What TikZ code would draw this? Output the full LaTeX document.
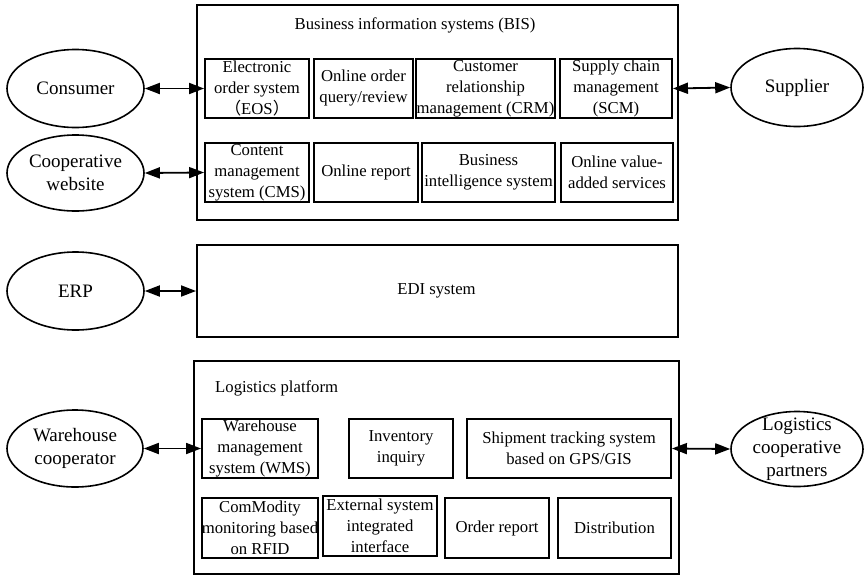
\documentclass[tikz,border=0pt]{standalone}
\usepackage{fontspec}
\setmainfont{Liberation Serif}
\newfontfamily\cjk{Noto Sans CJK SC}
\usetikzlibrary{shapes.geometric,arrows.meta}
\tikzset{
  bx/.style={draw, line width=1.9pt, inner sep=0pt, align=center, font=\fontsize{16.7}{21}\selectfont},
  outer/.style={draw, line width=1.9pt, inner sep=0pt},
  ell/.style={draw, ellipse, line width=1.6pt, inner sep=0pt},
  elltxt/.style={align=center, inner sep=0pt, font=\fontsize{19}{23}\selectfont},
  lbl/.style={inner sep=0pt, font=\fontsize{16.7}{21}\selectfont},
  conn/.style={line width=1.8pt, arrows={Triangle[length=15pt,width=11pt]-Triangle[length=15pt,width=11pt]}}
}
\begin{document}
\begin{tikzpicture}[x=1pt,y=-1pt]
\useasboundingbox (0,0) rectangle (864,576);
% BIS
\node[outer, minimum width=481, minimum height=215] (bis) at (437.5,112.5) {};
\node[lbl] (bistitle) at (415,25) {Business information systems (BIS)};
\node[bx, minimum width=104, minimum height=59] (eos) at (257,88.5) {Electronic\\order system\\{\cjk （}EOS{\cjk ）}};
\node[bx, minimum width=99, minimum height=59] (query) at (363.5,88.5) {Online order\\query/review};
\node[bx, minimum width=139, minimum height=59] (crm) at (485.5,88.5) {Customer\\relationship\\management (CRM)};
\node[bx, minimum width=112, minimum height=59] (scm) at (616,88.5) {Supply chain\\management\\(SCM)};
\node[bx, minimum width=104, minimum height=59] (cms) at (257,172.5) {Content\\management\\system (CMS)};
\node[bx, minimum width=104, minimum height=59] (report) at (366,172.5) {Online report};
\node[bx, minimum width=133, minimum height=59] (bi) at (488.5,172.5) {Business\\intelligence system};
\node[bx, minimum width=112, minimum height=59] (vas) at (617,172.5) {Online value-\\added services};
% EDI
\node[outer, minimum width=481, minimum height=92] (edi) at (437.5,291) {};
\node[lbl] (editxt) at (436.5,291) {EDI system};
% Logistics
\node[outer, minimum width=485, minimum height=213] (log) at (436.5,467.5) {};
\node[lbl, anchor=west] (logtitle) at (215,388) {Logistics platform};
\node[bx, minimum width=116, minimum height=59] (wms) at (260,448.5) {Warehouse\\management\\system (WMS)};
\node[bx, minimum width=104, minimum height=59] (inv) at (401,448.5) {Inventory\\inquiry};
\node[bx, minimum width=204, minimum height=59] (ship) at (569,448.5) {Shipment tracking system\\based on GPS/GIS};
\node[bx, minimum width=116, minimum height=60] (rfid) at (260,528) {ComModity\\monitoring based\\on RFID};
\node[bx, minimum width=114, minimum height=60] (ext) at (380,526) {External system\\integrated\\interface};
\node[bx, minimum width=104, minimum height=60] (ord) at (497,528) {Order report};
\node[bx, minimum width=113, minimum height=60] (dist) at (614.5,528) {Distribution};
% Ellipses
\node[ell, minimum width=137, minimum height=78] (consumer) at (75.5,88.5) {};
\node[elltxt] at (consumer) {Consumer};
\node[ell, minimum width=132, minimum height=78] (supplier) at (797,87.5) {};
\node[elltxt] at (supplier) {Supplier};
\node[ell, minimum width=137, minimum height=76] (coop) at (75.5,173) {};
\node[elltxt] at (coop) {Cooperative\\website};
\node[ell, minimum width=137, minimum height=78] (erp) at (75.5,291) {};
\node[elltxt] at (erp) {ERP};
\node[ell, minimum width=136, minimum height=77] (wh) at (75,448.5) {};
\node[elltxt] at (wh) {Warehouse\\cooperator};
\node[ell, minimum width=132, minimum height=75] (lcp) at (797,449) {};
\node[elltxt] at (lcp) {Logistics\\cooperative\\partners};
% Connectors
\draw[conn] (consumer.east) -- (eos.west);
\draw[conn] (scm.east) -- (supplier.west);
\draw[conn] (coop.east) -- (cms.west);
\draw[conn] (erp.east) -- (edi.west);
\draw[conn] (wh.east) -- (wms.west);
\draw[conn] (ship.east) -- (lcp.west);
\end{tikzpicture}
\end{document}
